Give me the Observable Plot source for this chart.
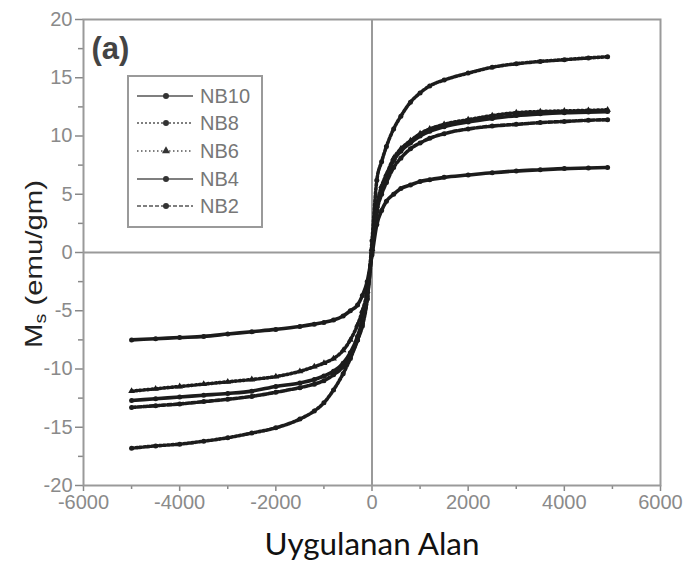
<!DOCTYPE html>
<html>
<head>
<meta charset="utf-8">
<script src="https://cdn.jsdelivr.net/npm/d3@7"></script>
<script src="https://cdn.jsdelivr.net/npm/@observablehq/plot@0.6"></script>
<style>
  html, body { margin: 0; padding: 0; background: #fff; }
  #chart { width: 686px; height: 563px; }
  svg { display: block; }
</style>
</head>
<body>
<div id="chart"></div>
<script>
// Applied field (Oe) at which each magnetisation curve was sampled
const field = [-5000, -4500, -4000, -3500, -3000, -2500, -2000, -1500, -1200, -1000, -800, -600, -450, -300, -200, -100,
  0, 100, 200, 300, 450, 600, 800, 1000, 1200, 1500, 2000, 2500, 3000, 3500, 4000, 4500, 4900];

// Magnetisation (emu/gm) for each sample
const nb10 = [-7.5, -7.4, -7.3, -7.2, -7.0, -6.8, -6.6, -6.35, -6.15, -6.0, -5.8, -5.45, -5.0, -4.5, -3.7, -2.5,
  -0.2, 2.4, 3.6, 4.4, 5.0, 5.5, 5.8, 6.1, 6.25, 6.45, 6.65, 6.85, 7.0, 7.1, 7.2, 7.25, 7.3];
const nb8 = [-16.8, -16.6, -16.45, -16.2, -15.9, -15.5, -15.05, -14.3, -13.6, -12.9, -11.8, -10.4, -9.1, -7.5, -6.3, -4.0,
  1.0, 6.2, 7.8, 9.1, 10.6, 11.7, 12.9, 13.7, 14.3, 14.8, 15.4, 15.9, 16.2, 16.4, 16.55, 16.7, 16.8];
const nb6 = [-11.9, -11.7, -11.5, -11.3, -11.1, -10.9, -10.65, -10.2, -9.8, -9.5, -9.1, -8.4, -7.5, -6.2, -5.0, -3.3,
  0.3, 4.0, 5.7, 6.7, 8.1, 8.9, 9.6, 10.2, 10.6, 11.0, 11.4, 11.75, 12.0, 12.1, 12.15, 12.2, 12.25];
const nb4 = [-12.7, -12.55, -12.4, -12.25, -12.1, -11.9, -11.5, -11.2, -10.9, -10.6, -10.2, -9.5, -8.6, -7.2, -5.8, -3.8,
  0.2, 3.9, 5.5, 6.5, 7.9, 8.7, 9.4, 10.0, 10.4, 10.8, 11.2, 11.5, 11.75, 11.9, 12.0, 12.05, 12.1];
const nb2 = [-13.3, -13.15, -13.0, -12.8, -12.6, -12.35, -12.0, -11.6, -11.3, -11.0, -10.5, -9.8, -8.9, -7.5, -6.1, -4.0,
  0.0, 3.5, 5.0, 6.0, 7.3, 8.1, 8.9, 9.4, 9.8, 10.2, 10.6, 10.85, 11.0, 11.15, 11.25, 11.35, 11.4];

const sampleNames = ["NB10", "NB8", "NB6", "NB4", "NB2"];
const sampleValues = [nb10, nb8, nb6, nb4, nb2];

// Axis ticks
const xTicks = [-6000, -4000, -2000, 0, 2000, 4000, 6000];
const xMinorTicks = [-5000, -3000, -1000, 1000, 3000, 5000];
const yTicks = [-20, -15, -10, -5, 0, 5, 10, 15, 20];
const yMinorTicks = [-17.5, -12.5, -7.5, -2.5, 2.5, 7.5, 12.5, 17.5];

// Line dash and marker symbol per sample
const styleOf = {
  NB10: {dash: null, symbol: "circle"},
  NB8: {dash: "2,2", symbol: "circle"},
  NB6: {dash: "1.5,2.5", symbol: "triangle"},
  NB4: {dash: null, symbol: "circle"},
  NB2: {dash: "4,2", symbol: "circle"}
};

const rows = sampleNames.flatMap((name, i) =>
  field.map((h, j) => ({sample: name, H: h, M: sampleValues[i][j]}))
);

const ink = "#1c1c1c";
const axisGray = "#9a9a9a";
const labelGray = "#8a8a8a";

const curveMarks = sampleNames.flatMap(name => {
  const data = rows.filter(d => d.sample === name);
  return [
    Plot.line(data, {x: "H", y: "M", stroke: ink, strokeWidth: 3.6, strokeDasharray: styleOf[name].dash, curve: "monotone-x"}),
    Plot.dot(data, {x: "H", y: "M", r: 2.5, fill: ink, stroke: "none", symbol: () => styleOf[name].symbol})
  ];
});

const chart = Plot.plot({
  width: 686,
  height: 563,
  marginLeft: 83,
  marginRight: 26,
  marginTop: 19,
  marginBottom: 78,
  x: {domain: [-6000, 6000]},
  y: {domain: [-20, 20]},
  style: {fontFamily: "'Liberation Sans', Arial, sans-serif", background: "#fff"},
  marks: [
    Plot.ruleX([0], {stroke: axisGray, strokeWidth: 2}),
    Plot.ruleY([0], {stroke: axisGray, strokeWidth: 2}),
    Plot.axisX(xMinorTicks, {tickSize: 4, tickFormat: () => "", stroke: "#888", strokeWidth: 1.5, label: null}),
    Plot.axisX(xTicks, {tickSize: 6, tickPadding: 3, tickFormat: d => String(d), fontSize: 20, color: labelGray, stroke: "#888", strokeWidth: 1.5, label: null}),
    Plot.axisY(yMinorTicks, {tickSize: 5, tickFormat: () => "", stroke: "#888", strokeWidth: 1.5, label: null}),
    Plot.axisY(yTicks, {tickSize: 8, tickPadding: 3, tickFormat: d => String(d), fontSize: 20, color: labelGray, stroke: "#888", strokeWidth: 1.5, label: null}),
    Plot.frame({stroke: axisGray, strokeWidth: 2}),
    ...curveMarks,
    Plot.text(["(a)"], {frameAnchor: "top-left", dx: 8, dy: 17, fontSize: 31, fontWeight: "bold", fill: "#444", textAnchor: "start", lineAnchor: "top"})
  ]
});

document.getElementById("chart").append(chart);

const svg = d3.select(chart);

// Legend box
const legend = svg.append("g")
  .attr("font-family", "'Liberation Sans', Arial, sans-serif")
  .attr("text-anchor", "start");
legend.append("rect")
  .attr("x", 128).attr("y", 76).attr("width", 134).attr("height", 151)
  .attr("fill", "#fff").attr("stroke", axisGray).attr("stroke-width", 2);
const rowY = [96, 123, 151, 179, 206];
sampleNames.forEach((name, i) => {
  const y = rowY[i];
  legend.append("line")
    .attr("x1", 137).attr("x2", 193).attr("y1", y).attr("y2", y)
    .attr("stroke", "#555").attr("stroke-width", 1.6)
    .attr("stroke-dasharray", styleOf[name].dash);
  const sym = d3.symbol(styleOf[name].symbol === "triangle" ? d3.symbolTriangle : d3.symbolCircle, 28);
  legend.append("path").attr("d", sym()).attr("transform", `translate(166,${y})`).attr("fill", "#333");
  legend.append("text")
    .attr("x", 200).attr("y", y).attr("dy", "0.36em")
    .attr("text-anchor", "start")
    .attr("font-size", 20).attr("fill", "#777")
    .text(name);
});

// Axis titles
const yTitle = svg.append("text")
  .attr("transform", "translate(42,264) rotate(-90)")
  .attr("text-anchor", "middle")
  .attr("font-family", "'Liberation Sans', Arial, sans-serif")
  .attr("font-size", 24)
  .attr("fill", "#222")
  .attr("textLength", 168)
  .attr("lengthAdjust", "spacingAndGlyphs");
yTitle.append("tspan").text("M");
yTitle.append("tspan").attr("font-size", 16).attr("dy", 4).text("s");
yTitle.append("tspan").attr("dy", -4).text(" (emu/gm)");

svg.append("text")
  .attr("x", 372).attr("y", 555)
  .attr("text-anchor", "middle")
  .attr("font-family", "Lato, 'Open Sans', sans-serif")
  .attr("font-size", 31)
  .attr("fill", "#111")
  .attr("textLength", 215)
  .attr("lengthAdjust", "spacingAndGlyphs")
  .text("Uygulanan Alan");
</script>
</body>
</html>
